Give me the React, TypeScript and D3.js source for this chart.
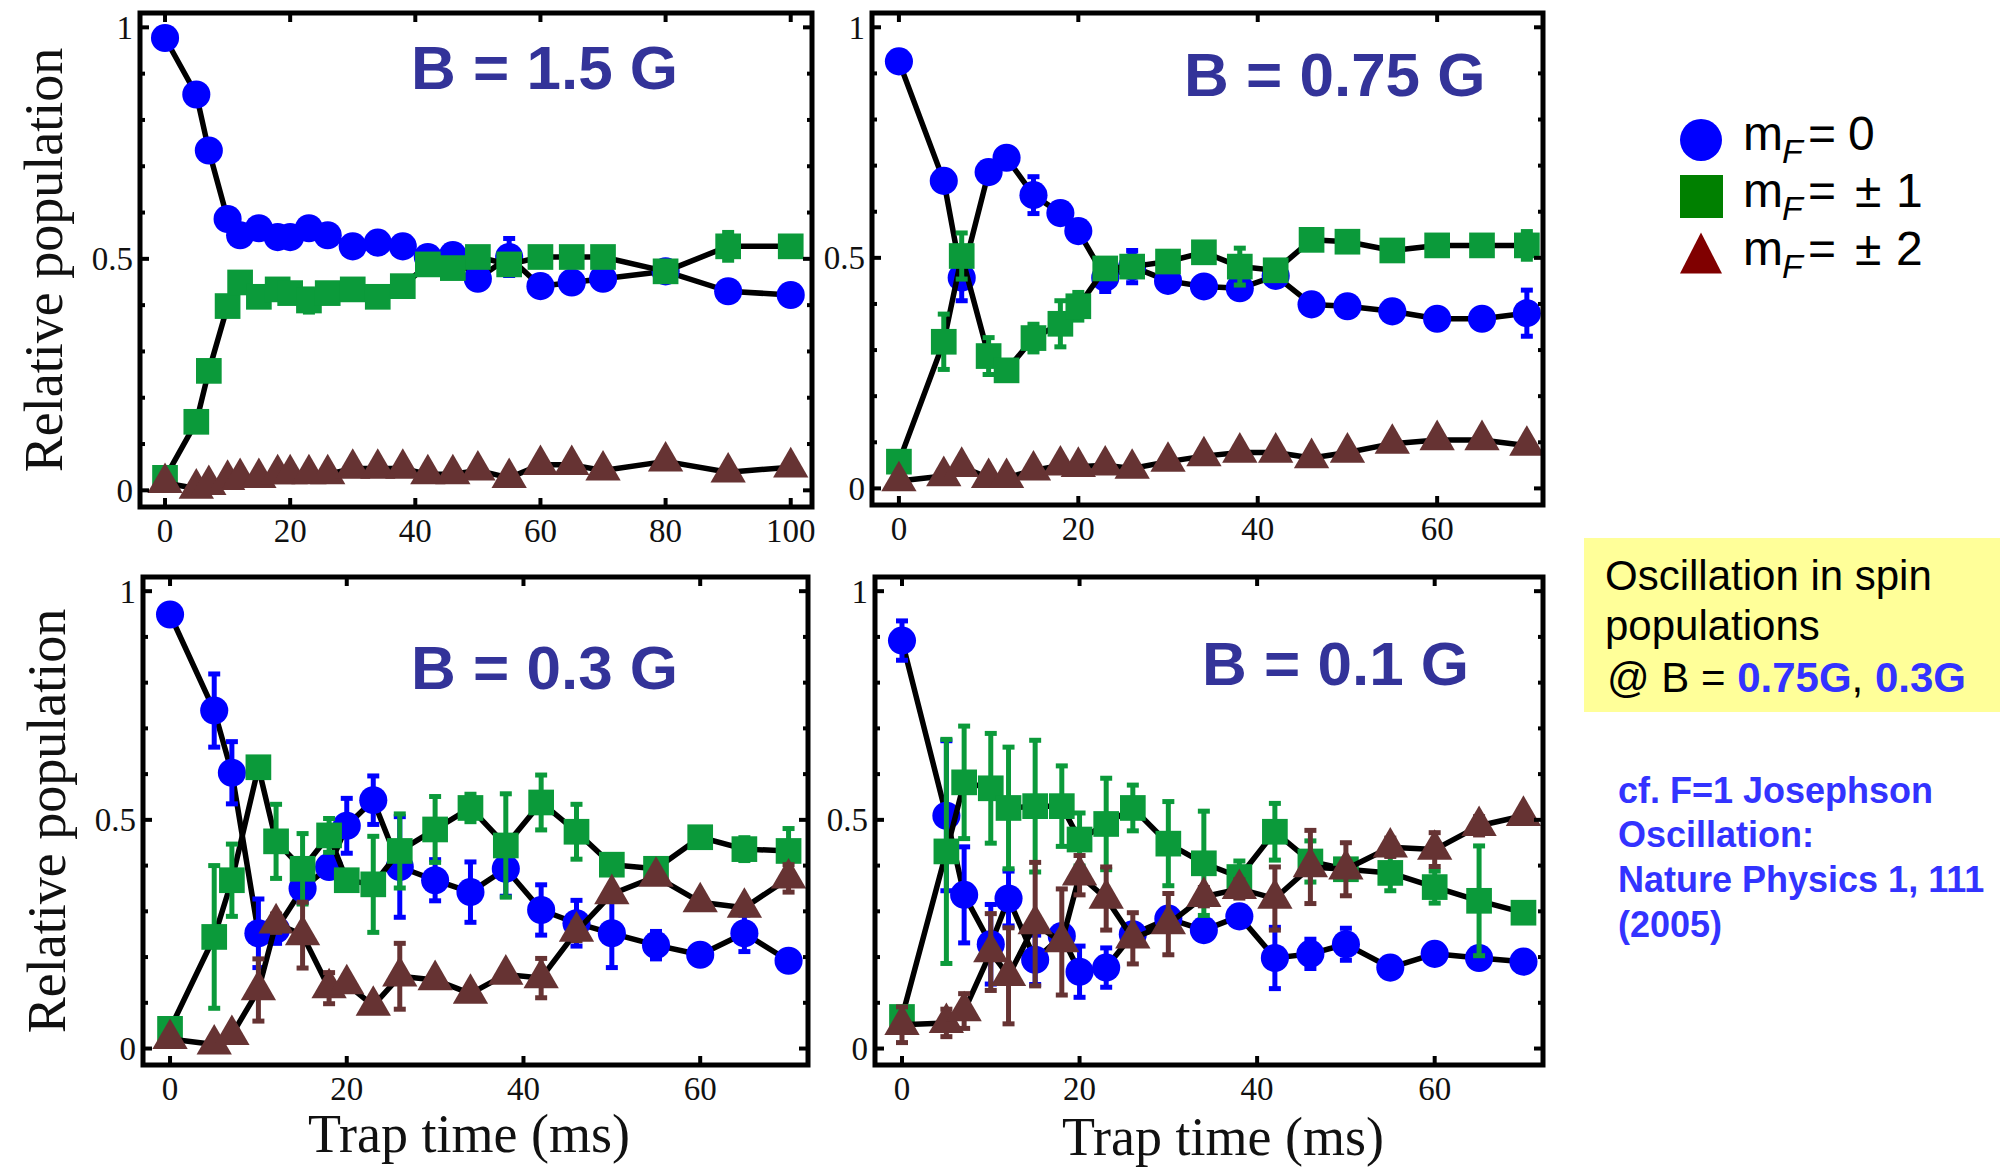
import React from "react";
import * as d3 from "d3";

// trap times (ms)
const TIME_LONG = [0, 5, 7, 10, 12, 15, 18, 20, 23, 26, 30, 34, 38, 42, 46, 50, 55, 60, 65, 70, 80, 90, 100];
const TIME = [0, 5, 7, 10, 12, 15, 18, 20, 23, 26, 30, 34, 38, 42, 46, 50, 55, 60, 65, 70];

// B = 1.5 G
const B15_M0 = [0.977, 0.855, 0.734, 0.586, 0.551, 0.566, 0.547, 0.547, 0.566, 0.551, 0.527, 0.535, 0.527, 0.504, 0.508, 0.457, 0.504, 0.441, 0.449, 0.457, 0.473, 0.43, 0.422];
const B15_M0_ERR = [0, 0, 0, 0, 0, 0, 0, 0, 0, 0, 0, 0, 0, 0, 0, 0, 0.04, 0, 0, 0, 0, 0.02, 0];
const B15_M1 = [0.027, 0.148, 0.258, 0.398, 0.449, 0.418, 0.434, 0.426, 0.41, 0.426, 0.434, 0.418, 0.441, 0.488, 0.48, 0.504, 0.488, 0.504, 0.504, 0.504, 0.473, 0.527, 0.527];
const B15_M1_ERR = [0, 0, 0, 0, 0.02, 0.015, 0.015, 0.01, 0.025, 0.015, 0, 0.015, 0, 0.015, 0, 0, 0.02, 0, 0, 0, 0, 0.03, 0.015];
const B15_M2 = [0.016, 0.004, 0.012, 0.023, 0.027, 0.027, 0.035, 0.035, 0.035, 0.035, 0.047, 0.047, 0.047, 0.035, 0.035, 0.043, 0.027, 0.055, 0.055, 0.043, 0.0625, 0.039, 0.05];
const B15_M2_ERR = TIME_LONG.map(() => 0);

// B = 0.75 G
const B075_M0 = [0.926, 0.667, 0.457, 0.686, 0.717, 0.636, 0.597, 0.558, 0.457, 0.481, 0.45, 0.438, 0.434, 0.461, 0.399, 0.395, 0.384, 0.368, 0.368, 0.38];
const B075_M0_ERR = [0, 0, 0.05, 0, 0, 0.04, 0, 0.02, 0.03, 0.035, 0, 0, 0, 0, 0, 0.02, 0, 0, 0, 0.05];
const B075_M1 = [0.058, 0.318, 0.504, 0.287, 0.256, 0.326, 0.357, 0.395, 0.477, 0.481, 0.492, 0.512, 0.481, 0.473, 0.539, 0.535, 0.516, 0.527, 0.527, 0.527];
const B075_M1_ERR = [0, 0.06, 0.05, 0.04, 0, 0.03, 0.05, 0.03, 0, 0.02, 0.015, 0, 0.04, 0, 0, 0.02, 0, 0, 0, 0.03];
const B075_M2 = [0.016, 0.027, 0.047, 0.023, 0.023, 0.039, 0.05, 0.047, 0.05, 0.043, 0.058, 0.07, 0.078, 0.078, 0.066, 0.078, 0.097, 0.105, 0.105, 0.093];
const B075_M2_ERR = TIME.map(() => 0);

// B = 0.3 G
const B03_M0 = [0.949, 0.739, 0.603, 0.252, 0.26, 0.35, 0.397, 0.487, 0.543, 0.397, 0.368, 0.342, 0.393, 0.303, 0.274, 0.252, 0.226, 0.205, 0.252, 0.192];
const B03_M0_ERR = [0, 0.08, 0.068, 0.075, 0.03, 0.03, 0.02, 0.06, 0.053, 0.11, 0.045, 0.066, 0.06, 0.055, 0.05, 0.075, 0.03, 0, 0.04, 0];
const B03_M1 = [0.043, 0.244, 0.368, 0.615, 0.453, 0.393, 0.466, 0.368, 0.359, 0.432, 0.479, 0.526, 0.444, 0.538, 0.474, 0.402, 0.393, 0.462, 0.436, 0.432];
const B03_M1_ERR = [0, 0.156, 0.079, 0.01, 0.081, 0.077, 0.037, 0.01, 0.105, 0.081, 0.072, 0.03, 0.113, 0.06, 0.06, 0.01, 0, 0.015, 0.025, 0.049];
const B03_M2 = [0.021, 0.009, 0.03, 0.128, 0.274, 0.248, 0.132, 0.141, 0.094, 0.158, 0.15, 0.12, 0.162, 0.154, 0.256, 0.338, 0.376, 0.32, 0.308, 0.372];
const B03_M2_ERR = [0, 0, 0, 0.068, 0.02, 0.072, 0.034, 0.01, 0.01, 0.072, 0, 0.01, 0.01, 0.043, 0.02, 0, 0, 0, 0, 0.03];

// B = 0.1 G
const B01_M0 = [0.892, 0.509, 0.336, 0.228, 0.328, 0.194, 0.246, 0.168, 0.177, 0.25, 0.284, 0.259, 0.289, 0.198, 0.207, 0.228, 0.177, 0.207, 0.198, 0.19];
const B01_M0_ERR = [0.043, 0.164, 0.105, 0.087, 0.06, 0.054, 0.02, 0.056, 0.043, 0.02, 0.02, 0, 0, 0.067, 0.032, 0.035, 0, 0, 0, 0];
const B01_M1 = [0.069, 0.431, 0.582, 0.569, 0.526, 0.53, 0.53, 0.457, 0.491, 0.526, 0.448, 0.405, 0.375, 0.474, 0.409, 0.392, 0.384, 0.353, 0.323, 0.297];
const B01_M1_ERR = [0, 0.245, 0.123, 0.12, 0.133, 0.144, 0.088, 0.058, 0.1, 0.05, 0.092, 0.114, 0.035, 0.062, 0.045, 0.02, 0.039, 0.035, 0.12, 0];
const B01_M2 = [0.052, 0.056, 0.082, 0.211, 0.159, 0.272, 0.233, 0.379, 0.328, 0.241, 0.272, 0.332, 0.349, 0.328, 0.397, 0.392, 0.44, 0.435, 0.487, 0.509];
const B01_M2_ERR = [0.039, 0.03, 0.038, 0.084, 0.105, 0.135, 0.116, 0.043, 0.069, 0.056, 0.067, 0.02, 0.02, 0.069, 0.08, 0.058, 0.02, 0.037, 0.02, 0];

const X_TICKS_LONG = [0, 20, 40, 60, 80, 100];
const X_TICKS = [0, 20, 40, 60];
const Y_TICKS = [0, 0.5, 1];
const Y_MINOR = d3.range(0, 11).map((d) => d / 10);

const LEGEND_LABELS = ["0", "\u00B1", "\u00B1"];
const LEGEND_DIGITS = ["", "1", "2"];

const BLUE = "#0000ff";
const GREEN = "#0b9a3a";
const BROWN = "#663333";
const SERIF = "'Liberation Serif', 'Times New Roman', serif";
const SANS = "'Liberation Sans', Arial, sans-serif";

type Series = { values: number[]; err: number[]; color: string; shape: "circle" | "square" | "triangle" };

const symbolFor = (shape: string) => {
  if (shape === "circle") return d3.symbol(d3.symbolCircle, 620)();
  if (shape === "square") return d3.symbol(d3.symbolSquare, 660)();
  return d3.symbol(d3.symbolTriangle, 540)();
};

type PanelProps = {
  frame: [number, number, number, number];
  xDomain: [number, number];
  xTicks: number[];
  time: number[];
  series: Series[];
  title: string;
  titleX: number;
  titleY: number;
  yLabel?: boolean;
  xLabel?: [number, number];
};

const Panel = ({ frame, xDomain, xTicks, time, series, title, titleX, titleY, yLabel, xLabel }: PanelProps) => {
  const [x0, y0, x1, y1] = frame;
  const x = d3.scaleLinear().domain(xDomain).range([x0, x1]);
  const y = d3.scaleLinear().domain([-0.036, 1.031]).range([y1, y0]);
  const line = d3
    .line<number>()
    .x((d, i) => x(time[i]))
    .y((d) => y(d));

  return (
    <g>
      {series.map((s, k) => (
        <g key={k}>
          <path d={line(s.values) || ""} fill="none" stroke="#000" strokeWidth={5.5} strokeLinejoin="round" />
          {s.values.map((v, i) =>
            s.err[i] > 0 ? (
              <g key={i} stroke={s.color} strokeWidth={5}>
                <line x1={x(time[i])} x2={x(time[i])} y1={y(v - s.err[i])} y2={y(v + s.err[i])} />
                <line x1={x(time[i]) - 6} x2={x(time[i]) + 6} y1={y(v - s.err[i])} y2={y(v - s.err[i])} />
                <line x1={x(time[i]) - 6} x2={x(time[i]) + 6} y1={y(v + s.err[i])} y2={y(v + s.err[i])} />
              </g>
            ) : null
          )}
          {s.values.map((v, i) => (
            <path key={"m" + i} d={symbolFor(s.shape) || ""} fill={s.color} transform={`translate(${x(time[i])},${y(v)})`} />
          ))}
        </g>
      ))}

      {/* ticks */}
      <g stroke="#000" strokeWidth={4}>
        {xTicks.map((t) => (
          <g key={t}>
            <line x1={x(t)} x2={x(t)} y1={y1} y2={y1 - 9} />
            <line x1={x(t)} x2={x(t)} y1={y0} y2={y0 + 9} />
          </g>
        ))}
        {Y_MINOR.map((t) => {
          const len = Y_TICKS.includes(t) ? 9 : 5;
          return (
            <g key={t}>
              <line x1={x0} x2={x0 + len} y1={y(t)} y2={y(t)} />
              <line x1={x1} x2={x1 - len} y1={y(t)} y2={y(t)} />
            </g>
          );
        })}
      </g>
      <rect x={x0} y={y0} width={x1 - x0} height={y1 - y0} fill="none" stroke="#000" strokeWidth={5} />

      {/* tick labels */}
      <g fontFamily={SERIF} fontSize={33} fill="#111">
        {xTicks.map((t) => (
          <text key={t} x={x(t)} y={y1 + 35} textAnchor="middle">
            {t}
          </text>
        ))}
        {Y_TICKS.map((t) => (
          <text key={t} x={x0 - 7} y={y(t)} dy="0.35em" textAnchor="end">
            {t}
          </text>
        ))}
      </g>

      <text x={titleX} y={titleY} fontFamily={SANS} fontWeight="bold" fontSize={62} fill="#333399">
        {title}
      </text>

      {yLabel && (
        <text
          transform={`translate(${x0 - 78},${(y0 + y1) / 2}) rotate(-90)`}
          textAnchor="middle"
          fontFamily={SERIF}
          fontSize={54}
          fill="#111"
        >
          Relative population
        </text>
      )}
      {xLabel && (
        <text x={xLabel[0]} y={xLabel[1]} textAnchor="middle" fontFamily={SERIF} fontSize={54} fill="#111">
          Trap time (ms)
        </text>
      )}
    </g>
  );
};

const mk = (m0: number[], e0: number[], m1: number[], e1: number[], m2: number[], e2: number[]): Series[] => [
  { values: m0, err: e0, color: BLUE, shape: "circle" },
  { values: m1, err: e1, color: GREEN, shape: "square" },
  { values: m2, err: e2, color: BROWN, shape: "triangle" },
];

const triPath = (cx: number, cy: number, w: number, h: number) =>
  d3.line()([
    [cx, cy - h / 2],
    [cx + w / 2, cy + h / 2],
    [cx - w / 2, cy + h / 2],
  ]) + "Z";

export default function App() {
  const legendY = [150, 207, 265];
  return (
    <svg width={2000} height={1171} style={{ position: "absolute", left: 0, top: 0, background: "#fff" }}>
      <rect width={2000} height={1171} fill="#fff" />
      <Panel
        frame={[140, 13, 812, 507]}
        xDomain={[-4, 103.4]}
        xTicks={X_TICKS_LONG}
        time={TIME_LONG}
        series={mk(B15_M0, B15_M0_ERR, B15_M1, B15_M1_ERR, B15_M2, B15_M2_ERR)}
        title="B = 1.5 G"
        titleX={411}
        titleY={89}
        yLabel
      />
      <Panel
        frame={[872, 13, 1543, 505]}
        xDomain={[-3.0, 71.8]}
        xTicks={X_TICKS}
        time={TIME}
        series={mk(B075_M0, B075_M0_ERR, B075_M1, B075_M1_ERR, B075_M2, B075_M2_ERR)}
        title="B = 0.75 G"
        titleX={1184}
        titleY={96}
      />
      <Panel
        frame={[143, 577, 808, 1065]}
        xDomain={[-3.06, 72.2]}
        xTicks={X_TICKS}
        time={TIME}
        series={mk(B03_M0, B03_M0_ERR, B03_M1, B03_M1_ERR, B03_M2, B03_M2_ERR)}
        title="B = 0.3 G"
        titleX={411}
        titleY={689}
        yLabel
        xLabel={[469, 1152]}
      />
      <Panel
        frame={[875, 577, 1543, 1065]}
        xDomain={[-3.04, 72.2]}
        xTicks={X_TICKS}
        time={TIME}
        series={mk(B01_M0, B01_M0_ERR, B01_M1, B01_M1_ERR, B01_M2, B01_M2_ERR)}
        title="B = 0.1 G"
        titleX={1202}
        titleY={685}
        xLabel={[1223, 1155]}
      />

      {/* legend */}
      <circle cx={1701} cy={140} r={21} fill="#0000ff" />
      <rect x={1680} y={175} width={43} height={43} fill="#008000" />
      <path d={triPath(1701, 253, 42, 41)} fill="#800000" />
      <g fontFamily={SANS} fontSize={48} fill="#000">
        {legendY.map((ly, i) => (
          <g key={i}>
            <text x={1743} y={ly}>m</text>
            <text x={1782} y={ly + 13} fontSize={34} fontStyle="italic">F</text>
            <text x={1808} y={ly}>=</text>
            <text x={i === 0 ? 1848 : 1855} y={ly}>{LEGEND_LABELS[i]}</text>
            <text x={1896} y={ly}>{LEGEND_DIGITS[i]}</text>
          </g>
        ))}
      </g>

      {/* note box */}
      <rect x={1584} y={538} width={416} height={174} fill="#ffff99" />
      <g fontFamily={SANS} fontSize={42} fill="#000">
        <text x={1605} y={590}>Oscillation in spin</text>
        <text x={1605} y={640}>populations</text>
        <text x={1607} y={692}>
          @ B = <tspan fontWeight="bold" fill="#3333ff">0.75G</tspan>,{" "}
          <tspan fontWeight="bold" fill="#3333ff">0.3G</tspan>
        </text>
      </g>
      <g fontFamily={SANS} fontSize={36} fontWeight="bold" fill="#3333ff">
        <text x={1618} y={803}>cf. F=1 Josephson</text>
        <text x={1618} y={847}>Oscillation:</text>
        <text x={1618} y={892}>Nature Physics 1, 111</text>
        <text x={1618} y={937}>(2005)</text>
      </g>
    </svg>
  );
}
